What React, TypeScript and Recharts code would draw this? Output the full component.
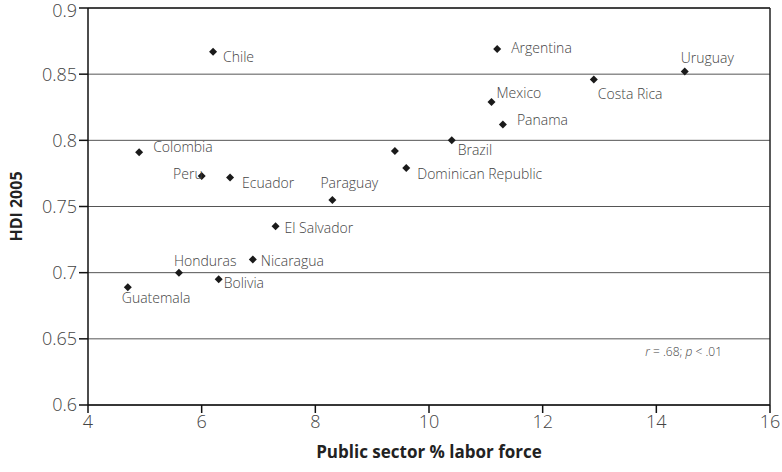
import React from "react";
import {
  ScatterChart,
  Scatter,
  XAxis,
  YAxis,
  CartesianGrid,
  ReferenceLine,
  Label,
} from "recharts";

// Country names (empty string = unlabeled point)
const countries = [
  "Chile",
  "Argentina",
  "Uruguay",
  "Costa Rica",
  "Mexico",
  "Panama",
  "Brazil",
  "",
  "Dominican Republic",
  "Colombia",
  "Peru",
  "Ecuador",
  "Paraguay",
  "El Salvador",
  "Nicaragua",
  "Honduras",
  "Bolivia",
  "Guatemala",
];

// Public sector employment as % of labor force
const publicSector = [6.2, 11.2, 14.5, 12.9, 11.1, 11.3, 10.4, 9.4, 9.6, 4.9, 6.0, 6.5, 8.3, 7.3, 6.9, 5.6, 6.3, 4.7];

// Human Development Index, 2005
const hdi = [0.867, 0.869, 0.852, 0.846, 0.829, 0.812, 0.8, 0.792, 0.779, 0.791, 0.773, 0.772, 0.755, 0.735, 0.71, 0.7, 0.695, 0.689];

const xTicks = [4, 6, 8, 10, 12, 14, 16];
const yTicks = [0.6, 0.65, 0.7, 0.75, 0.8, 0.85, 0.9];

// Label placement relative to each marker (dx, dy, anchor)
const labelOffsets: Record<string, [number, number, "start" | "end"]> = {
  Chile: [10, 5, "start"],
  Argentina: [14, -2, "start"],
  Uruguay: [-4, -14, "start"],
  "Costa Rica": [4, 14, "start"],
  Mexico: [5, -9, "start"],
  Panama: [14, -5, "start"],
  Brazil: [6, 9, "start"],
  "Dominican Republic": [11, 5, "start"],
  Colombia: [14, -6, "start"],
  Peru: [1, -3, "end"],
  Ecuador: [12, 5, "start"],
  Paraguay: [-12, -17, "start"],
  "El Salvador": [9, 1, "start"],
  Nicaragua: [8, 1, "start"],
  Honduras: [-5, -12, "start"],
  Bolivia: [5, 3, "start"],
  Guatemala: [-6, 10, "start"],
};

const data = countries.map((name, i) => ({
  name,
  x: publicSector[i],
  y: hdi[i],
}));

const FONT = "'Open Sans', 'Noto Sans', sans-serif";

const DiamondWithLabel = (props: any) => {
  const { cx, cy, payload } = props;
  const r = 4;
  const off = labelOffsets[payload.name];
  return (
    <g>
      <polygon
        points={`${cx},${cy - r} ${cx + r},${cy} ${cx},${cy + r} ${cx - r},${cy}`}
        fill="#1a1a1a"
      />
      {payload.name && off ? (
        <text
          x={cx + off[0]}
          y={cy + off[1]}
          textAnchor={off[2]}
          dominantBaseline="central"
          fontSize={14}
          fontWeight={300}
          fontFamily={FONT}
          fill="#444"
        >
          {payload.name}
        </text>
      ) : null}
    </g>
  );
};

export default function App() {
  return (
    <div style={{ position: "absolute", left: 0, top: 0 }}>
      <ScatterChart
        width={782}
        height={472}
        margin={{ top: 8, right: 12, left: 0, bottom: 0 }}
      >
        <CartesianGrid horizontal vertical={false} stroke="#555" strokeWidth={1} />
        <XAxis
          type="number"
          dataKey="x"
          domain={[4, 16]}
          ticks={xTicks}
          height={67}
          axisLine={{ stroke: "#111", strokeWidth: 1.5 }}
          tickLine={{ stroke: "#111", strokeWidth: 1.5 }}
          tickSize={8}
          tick={{ fontSize: 18, fontWeight: 300, fill: "#444", fontFamily: FONT }}
          tickMargin={2}
        >
          <Label
            value="Public sector % labor force"
            position="insideBottom"
            offset={14}
            style={{ fontSize: 17, fontWeight: 700, fill: "#222", fontFamily: FONT }}
          />
        </XAxis>
        <YAxis
          type="number"
          dataKey="y"
          domain={[0.6, 0.9]}
          ticks={yTicks}
          width={88}
          axisLine={{ stroke: "#111", strokeWidth: 1.5 }}
          tickLine={{ stroke: "#111", strokeWidth: 1.5 }}
          tickSize={9}
          tickFormatter={(v: number) => String(Number(v.toFixed(2)))}
          tick={{ fontSize: 18, fontWeight: 300, fill: "#444", fontFamily: FONT }}
          tickMargin={2}
        >
          <Label
            value="HDI 2005"
            angle={-90}
            position="insideLeft"
            offset={16}
            style={{ fontSize: 16, fontWeight: 700, fill: "#222", fontFamily: FONT, textAnchor: "middle" }}
          />
        </YAxis>
        <ReferenceLine x={16} stroke="#222" strokeWidth={1.5} />
        <ReferenceLine y={0.9} stroke="#222" strokeWidth={1.5} />
        <Scatter data={data} shape={DiamondWithLabel} isAnimationActive={false} />
        <text
          x={722}
          y={351}
          textAnchor="end"
          dominantBaseline="central"
          fontSize={12}
          fontWeight={300}
          fontFamily={FONT}
          fill="#444"
        >
          <tspan fontStyle="italic">r</tspan>
          <tspan> = .68; </tspan>
          <tspan fontStyle="italic">p</tspan>
          <tspan> &lt; .01</tspan>
        </text>
      </ScatterChart>
    </div>
  );
}
